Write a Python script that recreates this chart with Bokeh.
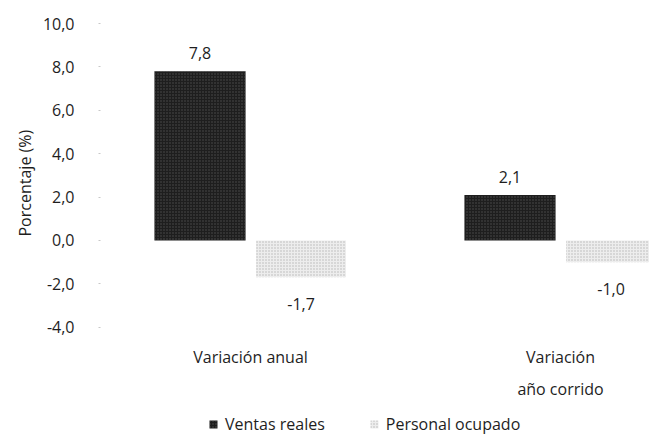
from bokeh.plotting import figure
from bokeh.models import ColumnDataSource, FixedTicker, Range1d, Legend, LegendItem, Title
from bokeh.transform import dodge
from bokeh.core.properties import value
from bokeh.embed import file_html
from bokeh.resources import INLINE

categories = ["Variación anual", "Variación\naño corrido"]
ventas_reales = [7.8, 2.1]
personal_ocupado = [-1.7, -1.0]
series_names = ["Ventas reales", "Personal ocupado"]
y_ticks = [-4, -2, 0, 2, 4, 6, 8, 10]
y_title = "Porcentaje (%)"

FONT = "Open Sans"
FS = "16px"
TXT = "#1e1e1e"
CAT_LABEL_Y = -4.88  # data level where the category labels hang (below the -4 tick)

def fmt(v):
    return f"{v:.1f}".replace(".", ",")

xs = list(range(len(categories)))
src_v = ColumnDataSource(dict(x=xs, y=ventas_reales,
                              label=[fmt(v) for v in ventas_reales],
                              off=[-18 if v >= 0 else 27 for v in ventas_reales]))
src_p = ColumnDataSource(dict(x=xs, y=personal_ocupado,
                              label=[fmt(v) for v in personal_ocupado],
                              off=[-18 if v >= 0 else 27 for v in personal_ocupado]))
src_c = ColumnDataSource(dict(x=xs, y=[CAT_LABEL_Y] * len(xs), text=categories))

p = figure(width=649, height=435, output_backend="svg", toolbar_location=None,
           x_range=Range1d(-0.484, 1.287), y_range=Range1d(-8.99, 10.51),
           min_border_left=100, min_border_right=0, min_border_top=12,
           min_border_bottom=0, outline_line_color=None)
p.grid.visible = False
p.background_fill_color = "white"

r1 = p.vbar(x=dodge("x", -0.163, range=p.x_range), top="y", width=0.294, bottom=0,
            source=src_v, fill_color="#1e1e1e", line_color=None,
            hatch_pattern="dot", hatch_color="#6e6e6e", hatch_scale=3, hatch_alpha=0.6)
r2 = p.vbar(x=dodge("x", 0.163, range=p.x_range), top="y", width=0.29, bottom=0,
            source=src_p, fill_color="#ededed", line_color=None,
            hatch_pattern="dot", hatch_color="#a8a8a8", hatch_scale=3, hatch_alpha=0.8)

for src, dx in ((src_v, -0.163), (src_p, 0.163)):
    p.text(x=dodge("x", dx, range=p.x_range), y="y", text="label", y_offset="off",
           source=src, text_align="center", text_baseline="middle",
           text_font=value(FONT), text_font_size=FS, text_color=TXT)

# category labels
p.text(x="x", y="y", text="text", source=src_c, text_align="center",
       text_baseline="top", text_font=value(FONT), text_font_size=FS,
       text_color=TXT, text_line_height=1.42)

# y axis
ya = p.yaxis[0]
ya.ticker = FixedTicker(ticks=y_ticks)
ya.major_label_overrides = {t: fmt(t) for t in y_ticks}
ya.axis_line_color = None
ya.major_tick_line_color = "#c8c8c8"
ya.major_tick_in = 0
ya.major_tick_out = 2
ya.minor_tick_line_color = None
ya.major_label_standoff = 24
ya.major_label_text_font = FONT
ya.major_label_text_font_size = FS
ya.major_label_text_color = TXT

# y-axis title as a side title, shifted up from the frame's bottom
p.add_layout(Title(text=y_title, align="left", offset=199, standoff=8,
                   text_font=FONT, text_font_size=FS, text_font_style="normal",
                   text_color=TXT), "left")

p.xaxis.visible = False

legend = Legend(items=[LegendItem(label=series_names[0], renderers=[r1]),
                       LegendItem(label=series_names[1], renderers=[r2])],
                orientation="horizontal", location=(108, 0),
                label_text_font=FONT, label_text_font_size=FS,
                label_text_color=TXT, border_line_color=None,
                background_fill_alpha=0,
                glyph_width=10, glyph_height=10, spacing=44, padding=0,
                label_standoff=7, margin=0)
p.add_layout(legend)

open("out.html", "w").write(file_html(p, INLINE))
